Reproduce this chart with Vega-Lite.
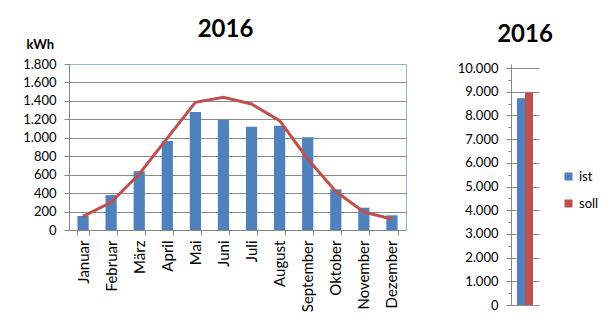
{
  "$schema": "https://vega.github.io/schema/vega-lite/v6.json",
  "padding": {"left": 22, "top": 17, "right": 2, "bottom": 2},
  "spacing": 50,
  "resolve": {"legend": {"color": "independent"}, "scale": {"color": "independent"}},
  "config": {
    "locale": {"number": {"decimal": ",", "thousands": ".", "grouping": [3], "currency": ["", " €"]}},
    "font": "Lato",
    "axis": {"labelColor": "#000000", "domainColor": "#868686", "tickColor": "#868686", "gridColor": "#8C8C8C", "labelFontSize": 13},
    "title": {"fontSize": 24, "fontWeight": "bold", "color": "#000000", "anchor": "middle", "frame": "group"}
  },
  "datasets": {
    "monthly": [
      {"Monat": "Januar", "ist": 152, "soll": 148},
      {"Monat": "Februar", "ist": 379, "soll": 300},
      {"Monat": "März", "ist": 636, "soll": 607},
      {"Monat": "April", "ist": 965, "soll": 997},
      {"Monat": "Mai", "ist": 1279, "soll": 1384},
      {"Monat": "Juni", "ist": 1196, "soll": 1438},
      {"Monat": "Juli", "ist": 1120, "soll": 1366},
      {"Monat": "August", "ist": 1131, "soll": 1185},
      {"Monat": "September", "ist": 1005, "soll": 770},
      {"Monat": "Oktober", "ist": 441, "soll": 419},
      {"Monat": "November", "ist": 242, "soll": 195},
      {"Monat": "Dezember", "ist": 159, "soll": 119}
    ],
    "total": [
      {"Reihe": "ist", "Wert": 8720},
      {"Reihe": "soll", "Wert": 8970}
    ]
  },
  "hconcat": [
    {
      "width": 337,
      "height": 166,
      "title": {"text": "2016", "dx": -12, "offset": -4},
      "data": {"name": "monthly"},
      "view": {"stroke": "#8DB3E2"},
      "encoding": {
        "x": {
          "field": "Monat", "type": "ordinal", "sort": null,
          "scale": {"paddingInner": 0.6, "paddingOuter": 0.3},
          "axis": {"title": null, "labelAngle": -90, "labelAlign": "right", "labelBaseline": "middle", "labelFontSize": 15, "tickBand": "extent", "tickSize": 5, "labelPadding": 5, "grid": false}
        }
      },
      "layer": [
        {
          "mark": {"type": "bar", "color": "#4F81BD"},
          "encoding": {
            "y": {
              "field": "ist", "type": "quantitative",
              "scale": {"domain": [0, 1800], "nice": false},
              "axis": {
                "title": "kWh", "titleAngle": 0, "titleX": -43, "titleY": -16, "titleAlign": "left", "titleBaseline": "alphabetic",
                "titleFontSize": 13, "titleFontWeight": "bold", "titleColor": "#000000",
                "values": [0, 200, 400, 600, 800, 1000, 1200, 1400, 1600, 1800],
                "format": ",d", "tickSize": 5, "labelPadding": 8, "labelOverlap": false, "grid": true,
                "gridOpacity": {"condition": {"test": "datum.value >= 1800", "value": 0}, "value": 1}
              }
            }
          }
        },
        {
          "mark": {"type": "line", "color": "#C0504D", "strokeWidth": 3},
          "encoding": {
            "y": {
              "field": "soll", "type": "quantitative",
              "scale": {"domain": [0, 1800], "nice": false},
              "axis": {
                "title": "kWh", "titleAngle": 0, "titleX": -43, "titleY": -16, "titleAlign": "left", "titleBaseline": "alphabetic",
                "titleFontSize": 13, "titleFontWeight": "bold", "titleColor": "#000000",
                "values": [0, 200, 400, 600, 800, 1000, 1200, 1400, 1600, 1800],
                "format": ",d", "tickSize": 5, "labelPadding": 8, "labelOverlap": false, "grid": true,
                "gridOpacity": {"condition": {"test": "datum.value >= 1800", "value": 0}, "value": 1}
              }
            }
          }
        }
      ]
    },
    {
      "width": 28,
      "height": 241,
      "title": {"text": "2016", "offset": 15},
      "data": {"name": "total"},
      "view": {"stroke": null},
      "mark": {"type": "bar"},
      "encoding": {
        "x": {"field": "Reihe", "type": "nominal", "sort": ["ist", "soll"], "scale": {"paddingInner": 0, "paddingOuter": 0.75}, "axis": null},
        "y": {
          "field": "Wert", "type": "quantitative",
          "scale": {"domain": [0, 10169], "nice": false},
          "axis": {
            "title": null,
            "values": [0, 500, 1000, 1500, 2000, 2500, 3000, 3500, 4000, 4500, 5000, 5500, 6000, 6500, 7000, 7500, 8000, 8500, 9000, 9500, 10000],
            "format": ",d",
            "labelExpr": "datum.value % 1000 === 0 ? datum.label : ''",
            "labelOverlap": false, "labelPadding": 8, "grid": true,
            "tickSize": {"condition": {"test": "datum.value % 1000 === 0", "value": 5}, "value": 3},
            "gridOpacity": {"condition": {"test": "datum.value % 1000 === 0", "value": 1}, "value": 0}
          }
        },
        "color": {
          "field": "Reihe", "type": "nominal",
          "scale": {"domain": ["ist", "soll"], "range": ["#4F81BD", "#C0504D"]},
          "legend": {"title": null, "orient": "none", "legendX": 51, "legendY": 106, "symbolType": "square", "symbolSize": 64, "symbolStrokeWidth": 0, "labelFontSize": 13, "rowPadding": 13}
        }
      }
    }
  ]
}
